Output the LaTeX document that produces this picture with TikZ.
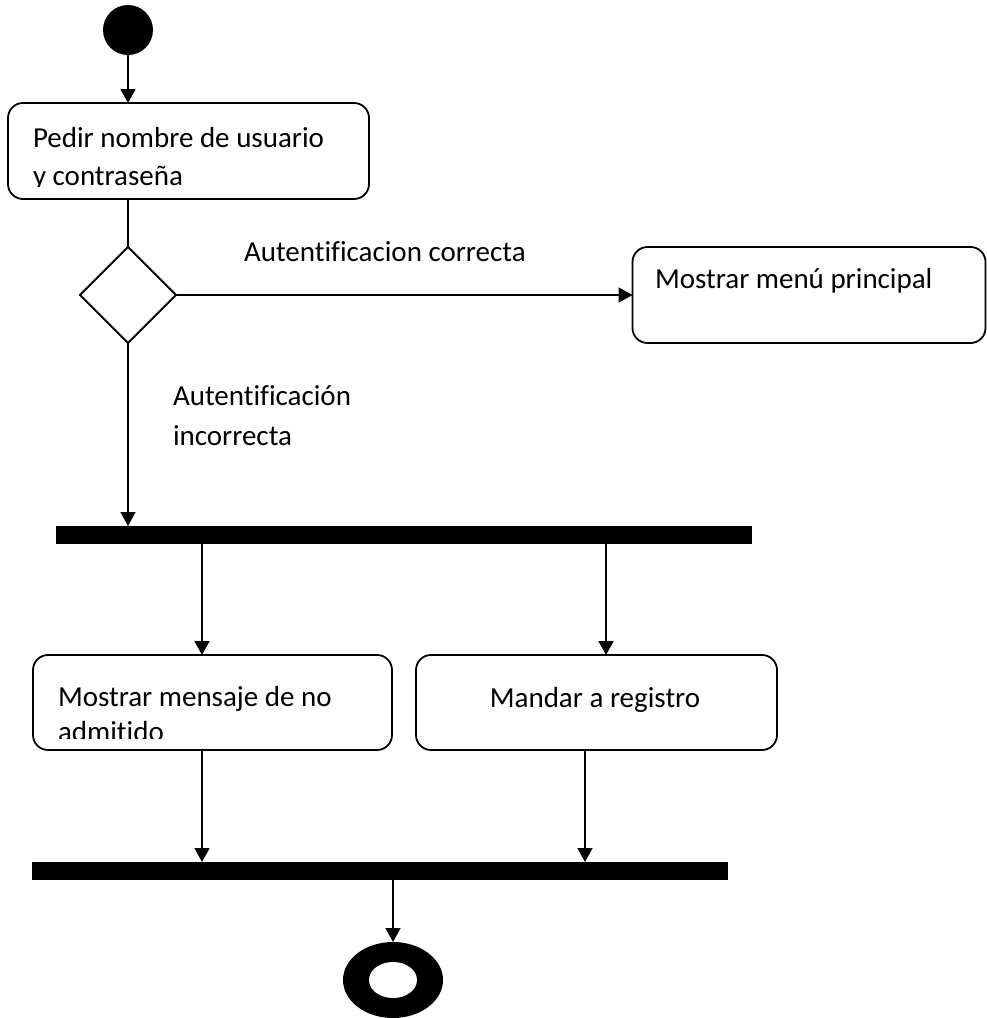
\documentclass[tikz,border=0pt]{standalone}
\usepackage{fontspec}
\setmainfont{Carlito}[Ligatures=NoCommon]
\usetikzlibrary{arrows.meta,shapes.geometric}
\begin{document}
\begin{tikzpicture}[x=1pt,y=-1pt,
  every node/.style={inner sep=0pt,outer sep=0pt},
  line/.style={line width=1.8pt,draw=black},
  arr/.style={line width=1.8pt,-{Triangle[width=15pt,length=14pt]}},
  actbox/.style={draw=black,line width=1.8pt,rounded corners=15pt,rectangle,fill=white},
  bar/.style={fill=black,rectangle,minimum height=18pt},
  txt/.style={anchor=base west,font=\fontsize{29}{35}\selectfont},
]
\useasboundingbox (0,0) rectangle (986,1018);
% start
\node[circle,fill=black,minimum size=50pt] (start) at (128,30) {};
% activity 1
\node[actbox,minimum width=361pt,minimum height=96pt] (a1) at (188.5,151) {};
\begin{scope}
\clip (10,105) rectangle (367,186.5);
\node[txt] (t1a) at (33,147) {Pedir nombre de usuario};
\node[txt] (t1b) at (33,185) {y contraseña};
\end{scope}
% decision
\node[diamond,draw=black,line width=1.8pt,minimum width=96pt,minimum height=96pt] (dec) at (128,295) {};
% menu
\node[actbox,minimum width=353pt,minimum height=96pt] (menu) at (809,295) {};
\node[txt] (tmenu) at (655,288) {Mostrar menú principal};
\node[txt] (lok) at (244,261) {Autentificacion correcta};
\node[txt] (lko1) at (173,405) {Autentificación};
\node[txt] (lko2) at (173,445) {incorrecta};
% fork
\node[bar,minimum width=696pt] (fork) at (404,535) {};
% msg
\node[actbox,minimum width=359pt,minimum height=95pt] (msg) at (212.5,702.5) {};
\begin{scope}
\clip (35,657) rectangle (390,738.5);
\node[txt] (tmsg1) at (58,706) {Mostrar mensaje de no};
\node[txt] (tmsg2) at (58,741) {admitido};
\end{scope}
% reg
\node[actbox,minimum width=361pt,minimum height=95pt] (reg) at (596.5,702.5) {};
\node[txt,anchor=base] (treg) at (595,707) {Mandar a registro};
% join
\node[bar,minimum width=696pt] (join) at (380,871) {};
% end
\node[ellipse,fill=black,minimum width=100pt,minimum height=76pt] (end) at (393,980) {};
\node[ellipse,fill=white,minimum width=48pt,minimum height=36pt] (endin) at (end.center) {};
% helper coordinates
\coordinate (f1) at (202,544);
\coordinate (f2) at (606,544);
\coordinate (m1) at (202,750);
\coordinate (r1) at (585,750);
% connectors
\draw[arr] (start.south) -- (start.south |- a1.north);
\draw[line] (dec.north |- a1.south) -- (dec.north);
\draw[arr] (dec.east) -- (menu.west);
\draw[arr] (dec.south) -- (dec.south |- fork.north);
\draw[arr] (f1) -- (f1 |- msg.north);
\draw[arr] (f2) -- (f2 |- reg.north);
\draw[arr] (m1) -- (m1 |- join.north);
\draw[arr] (r1) -- (r1 |- join.north);
\draw[arr] (end.north |- join.south) -- (end.north);
\end{tikzpicture}
\end{document}
